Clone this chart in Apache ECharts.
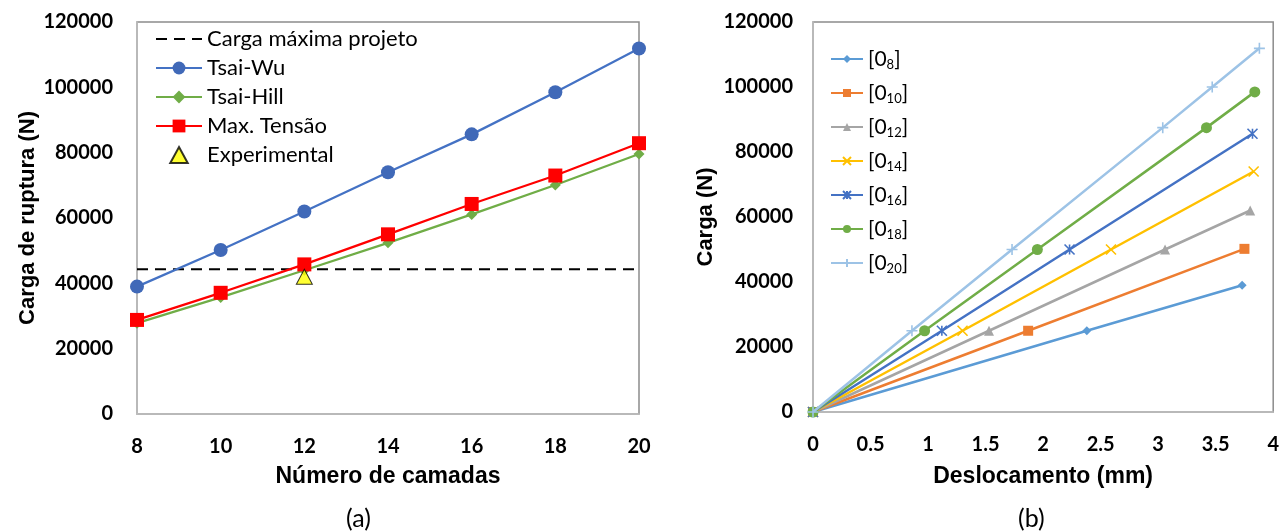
<!DOCTYPE html>
<html>
<head>
<meta charset="utf-8">
<script src="https://cdn.jsdelivr.net/npm/echarts@6/dist/echarts.min.js"></script>
<style>
  html, body { margin: 0; padding: 0; background: #ffffff; }
  #chart { width: 1282px; height: 531px; }
</style>
</head>
<body>
<div id="chart"></div>
<script>
// (a) Carga de ruptura por número de camadas
const camadas = [8, 10, 12, 14, 16, 18, 20];
const tsaiWu = [39000, 50200, 62000, 74000, 85600, 98500, 111900];
const tsaiHill = [27800, 35700, 44000, 52400, 61100, 70100, 79600];
const maxTensao = [28800, 37100, 45800, 55000, 64300, 73000, 82900];
const experimentalCamadas = [12];
const experimentalCarga = [42000];
const cargaMaximaProjeto = 44300;

// (b) Carga x deslocamento para cada laminado [0_n]
const laminados = [8, 10, 12, 14, 16, 18, 20];
const desloc08 = [0, 2.38, 3.73];
const carga08 = [0, 25000, 39000];
const desloc10 = [0, 1.87, 3.75];
const carga10 = [0, 25000, 50200];
const desloc12 = [0, 1.53, 3.06, 3.80];
const carga12 = [0, 25000, 50000, 62000];
const desloc14 = [0, 1.30, 2.59, 3.83];
const carga14 = [0, 25000, 50000, 74000];
const desloc16 = [0, 1.12, 2.23, 3.82];
const carga16 = [0, 25000, 50000, 85600];
const desloc18 = [0, 0.97, 1.95, 3.42, 3.84];
const carga18 = [0, 25000, 50000, 87500, 98500];
const desloc20 = [0, 0.86, 1.73, 3.04, 3.47, 3.88];
const carga20 = [0, 25000, 50000, 87500, 100000, 111900];

const yTicks = { min: 0, max: 120000, interval: 20000 };
const xTicksA = { min: 8, max: 20, interval: 2 };
const xTicksB = { min: 0, max: 4, interval: 0.5 };

const pairs = (xs, ys) => xs.map((x, i) => [x, ys[i]]);
const SUB = '₀₁₂₃₄₅₆₇₈₉';
const toSub = n => String(n).split('').map(d => SUB[+d]).join('');
const lamName = n => '[0' + toSub(n) + ']';
const plainNumber = v => String(v);

const labelFont = { fontFamily: 'Lato', fontWeight: 'bold', fontSize: 20, color: '#000' };
const titleFont = { fontFamily: 'Liberation Sans', fontWeight: 'bold', fontSize: 22, color: '#000' };

const crossPath = 'path://M0,0L10,10M10,0L0,10';
const starPath = 'path://M0,0L10,10M10,0L0,10M5,0L5,10';
const plusPath = 'path://M5,0L5,10M0,5L10,5';

const lamStyle = [
  { d: desloc08, c: carga08, color: '#5B9BD5', symbol: 'diamond', size: 9 },
  { d: desloc10, c: carga10, color: '#ED7D31', symbol: 'rect', size: 10 },
  { d: desloc12, c: carga12, color: '#A5A5A5', symbol: 'triangle', size: 10 },
  { d: desloc14, c: carga14, color: '#FFC000', symbol: crossPath, size: 10, stroke: true },
  { d: desloc16, c: carga16, color: '#4472C4', symbol: starPath, size: 10, stroke: true },
  { d: desloc18, c: carga18, color: '#70AD47', symbol: 'circle', size: 11 },
  { d: desloc20, c: carga20, color: '#9DC3E6', symbol: plusPath, size: 11, stroke: true }
];

const seriesB = laminados.map((n, i) => {
  const s = lamStyle[i];
  return {
    name: lamName(n),
    type: 'line',
    xAxisIndex: 1,
    yAxisIndex: 1,
    data: pairs(s.d, s.c),
    symbol: s.symbol,
    symbolSize: s.size,
    showAllSymbol: true,
    lineStyle: { color: s.color, width: 2.5 },
    itemStyle: s.stroke
      ? { color: s.color, borderColor: s.color, borderWidth: 1.6 }
      : { color: s.color, borderWidth: 0 },
    z: 2 + i
  };
});

const chart = echarts.init(document.getElementById('chart'), null, { renderer: 'canvas' });

chart.setOption({
  animation: false,
  backgroundColor: '#ffffff',
  grid: [
    { left: 137, top: 22, width: 502, height: 392, show: true, borderColor: '#8C8C8C', borderWidth: 1.5, backgroundColor: 'transparent' },
    { left: 813, top: 22, width: 463, height: 390, show: true, borderColor: '#8C8C8C', borderWidth: 1.5, backgroundColor: 'transparent' }
  ],
  xAxis: [
    {
      gridIndex: 0, type: 'value', ...xTicksA,
      axisLine: { show: true, onZero: false, lineStyle: { color: '#BFBFBF', width: 1.5 } },
      axisTick: { show: false }, splitLine: { show: false },
      axisLabel: { ...labelFont, margin: 23, formatter: plainNumber },
      name: 'Número de camadas', nameLocation: 'middle', nameGap: 51,
      nameTextStyle: { ...titleFont, fontSize: 23 }
    },
    {
      gridIndex: 1, type: 'value', ...xTicksB,
      axisLine: { show: true, onZero: false, lineStyle: { color: '#BFBFBF', width: 1.5 } },
      axisTick: { show: false }, splitLine: { show: false },
      axisLabel: { ...labelFont, margin: 23, formatter: plainNumber },
      name: 'Deslocamento (mm)', nameLocation: 'middle', nameGap: 53,
      nameTextStyle: { ...titleFont, fontSize: 23 }
    }
  ],
  yAxis: [
    {
      gridIndex: 0, type: 'value', ...yTicks,
      axisLine: { show: true, lineStyle: { color: '#BFBFBF', width: 1.5 } },
      axisTick: { show: false }, splitLine: { show: false },
      axisLabel: { ...labelFont, margin: 24, formatter: plainNumber },
      name: 'Carga de ruptura (N)', nameLocation: 'middle', nameGap: 98, nameTextStyle: titleFont
    },
    {
      gridIndex: 1, type: 'value', ...yTicks,
      axisLine: { show: true, lineStyle: { color: '#BFBFBF', width: 1.5 } },
      axisTick: { show: false }, splitLine: { show: false },
      axisLabel: { ...labelFont, margin: 20, formatter: plainNumber },
      name: 'Carga (N)', nameLocation: 'middle', nameGap: 96, nameTextStyle: titleFont
    }
  ],
  legend: [
    {
      orient: 'vertical', left: 155, top: 27, padding: 0, itemGap: 5,
      itemWidth: 46, itemHeight: 16, symbolKeepAspect: true,
      data: [
        { name: 'Carga máxima projeto', itemStyle: { color: 'rgba(0,0,0,0)', borderWidth: 0 } },
        'Tsai-Wu', 'Tsai-Hill', 'Max. Tensão',
        { name: 'Experimental', icon: 'path://M6,0L12,11L0,11Z' }
      ],
      textStyle: { fontFamily: 'Lato', fontSize: 22, color: '#000', lineHeight: 24 }
    },
    {
      orient: 'vertical', left: 830, top: 47, padding: 0, itemGap: 10,
      itemWidth: 32, itemHeight: 10,
      data: laminados.map(lamName),
      formatter: name => name.replace(/[₀-₉]+/g, m => '{s|' + m.split('').map(ch => SUB.indexOf(ch)).join('') + '}'),
      textStyle: {
        fontFamily: 'Lato', fontSize: 21, color: '#000', lineHeight: 24,
        rich: { s: { fontFamily: 'Lato', fontSize: 13, color: '#000', lineHeight: 17, verticalAlign: 'bottom' } }
      }
    }
  ],
  series: [
    {
      name: 'Carga máxima projeto', type: 'line', xAxisIndex: 0, yAxisIndex: 0,
      data: [[xTicksA.min, cargaMaximaProjeto], [xTicksA.max, cargaMaximaProjeto]],
      symbol: 'none',
      lineStyle: { color: '#000000', width: 2, type: [11, 7] },
      itemStyle: { color: '#000000' },
      z: 2
    },
    {
      name: 'Tsai-Wu', type: 'line', xAxisIndex: 0, yAxisIndex: 0,
      data: pairs(camadas, tsaiWu),
      symbol: 'circle', symbolSize: 14,
      lineStyle: { color: '#4472C4', width: 2.25 },
      itemStyle: { color: '#4069B8' },
      z: 3
    },
    {
      name: 'Tsai-Hill', type: 'line', xAxisIndex: 0, yAxisIndex: 0,
      data: pairs(camadas, tsaiHill),
      symbol: 'diamond', symbolSize: 11,
      lineStyle: { color: '#70AD47', width: 2.25 },
      itemStyle: { color: '#70AD47' },
      z: 4
    },
    {
      name: 'Max. Tensão', type: 'line', xAxisIndex: 0, yAxisIndex: 0,
      data: pairs(camadas, maxTensao),
      symbol: 'rect', symbolSize: 14,
      lineStyle: { color: '#FF0000', width: 2.25 },
      itemStyle: { color: '#FF0000' },
      z: 5
    },
    {
      name: 'Experimental', type: 'scatter', xAxisIndex: 0, yAxisIndex: 0,
      data: pairs(experimentalCamadas, experimentalCarga),
      symbol: 'triangle', symbolSize: [16, 15], symbolKeepAspect: true,
      itemStyle: { color: '#FFFF00', borderColor: '#000000', borderWidth: 1 },
      z: 6
    },
    ...seriesB
  ],
  graphic: [
    { type: 'text', left: 360 - 14, top: 506, style: { text: '(a)', fontFamily: 'Lato', fontSize: 25, fill: '#000' } },
    { type: 'text', left: 1032 - 14, top: 506, style: { text: '(b)', fontFamily: 'Lato', fontSize: 25, fill: '#000' } }
  ]
});
</script>
</body>
</html>
